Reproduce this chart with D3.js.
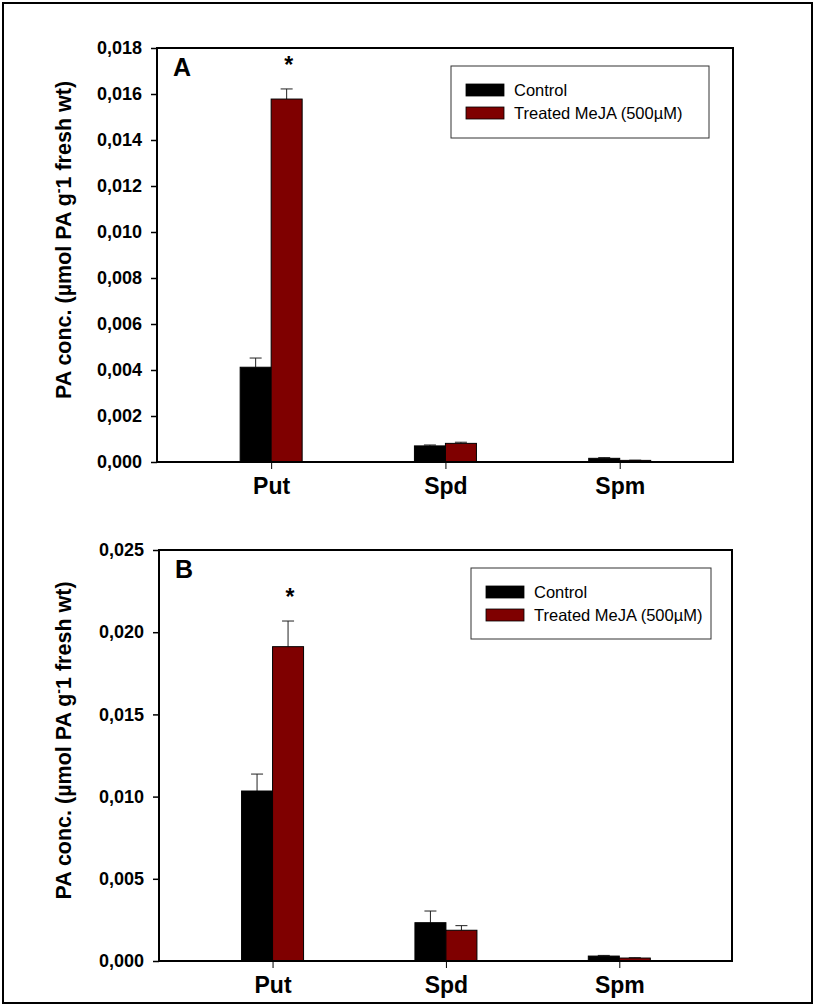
<!DOCTYPE html>
<html>
<head>
<meta charset="utf-8">
<script src="https://cdn.jsdelivr.net/npm/d3@7"></script>
<style>
  html, body { margin: 0; padding: 0; background: #fff; }
  svg { display: block; }
  text { font-family: "Liberation Sans", Arial, sans-serif; }
</style>
</head>
<body>
<svg id="chart" width="815" height="1006"></svg>
<script>
// ---- data ----
const categories = ["Put", "Spd", "Spm"];
const seriesNames = ["Control", "Treated MeJA (500\u00b5M)"];
const seriesColors = ["#000000", "#7f0000"];

const controlA = [0.00412, 0.00070, 0.00016];
const controlErrA = [0.00040, 0.00004, 0.00003];
const treatedA = [0.01578, 0.00081, 0.00007];
const treatedErrA = [0.00044, 0.00005, 0.00001];
const signifA = [true, false, false];
const ticksA = [0, 0.002, 0.004, 0.006, 0.008, 0.010, 0.012, 0.014, 0.016, 0.018];

const controlB = [0.01034, 0.00233, 0.00030];
const controlErrB = [0.00103, 0.00071, 0.00004];
const treatedB = [0.01912, 0.00187, 0.00018];
const treatedErrB = [0.00156, 0.00028, 0.00002];
const signifB = [true, false, false];
const ticksB = [0, 0.005, 0.010, 0.015, 0.020, 0.025];

const yTitleParts = ["PA conc. (\u00b5mol PA g", "-", "1 fresh wt)"];

// ---- drawing ----
const svg = d3.select("#chart");
svg.append("rect").attr("x", 3).attr("y", 3).attr("width", 809).attr("height", 1000)
  .attr("fill", "none").attr("stroke", "#000").attr("stroke-width", 2);

const fmt = v => d3.format(".3f")(v).replace(".", ",");

function panel(cfg) {
  const g = svg.append("g");
  const x = d3.scaleLinear().domain([-0.655, 2.65]).range([cfg.left, cfg.right]);
  const y = d3.scaleLinear().domain([0, cfg.ymax]).range([cfg.bottom, cfg.top]);
  const bw = 31;

  // y axis
  const yAxis = d3.axisLeft(y).tickValues(cfg.ticks).tickFormat(fmt).tickSize(6).tickPadding(9);
  const ya = g.append("g").attr("transform", `translate(${cfg.left},0)`).call(yAxis);
  ya.select(".domain").remove();
  ya.selectAll(".tick line").attr("stroke", "#000").attr("stroke-width", 1.5);
  ya.selectAll(".tick text").attr("font-size", 18).attr("font-weight", "bold").attr("fill", "#000")
    .attr("font-family", "'Liberation Sans', Arial, sans-serif");

  // x axis
  const xAxis = d3.axisBottom(x).tickValues(categories.map((d, i) => i))
    .tickFormat(i => categories[i]).tickSize(7).tickPadding(9);
  const xa = g.append("g").attr("transform", `translate(0,${cfg.bottom})`).call(xAxis);
  xa.select(".domain").remove();
  xa.selectAll(".tick line").attr("stroke", "#000").attr("stroke-width", 1);
  xa.selectAll(".tick text").attr("font-size", 23).attr("font-weight", "bold").attr("fill", "#000")
    .attr("font-family", "'Liberation Sans', Arial, sans-serif");

  // bars
  const series = [
    { vals: cfg.control, errs: cfg.controlErr, color: seriesColors[0], off: -bw },
    { vals: cfg.treated, errs: cfg.treatedErr, color: seriesColors[1], off: 0 }
  ];
  series.forEach(s => {
    g.selectAll(null).data(categories).enter().append("line")
      .attr("x1", (d, i) => x(i) + s.off + bw / 2).attr("x2", (d, i) => x(i) + s.off + bw / 2)
      .attr("y1", (d, i) => y(s.vals[i])).attr("y2", (d, i) => y(s.vals[i] + s.errs[i]))
      .attr("stroke", "#222").attr("stroke-width", 1);
    g.selectAll(null).data(categories).enter().append("line")
      .attr("x1", (d, i) => x(i) + s.off + bw / 2 - 6).attr("x2", (d, i) => x(i) + s.off + bw / 2 + 6)
      .attr("y1", (d, i) => y(s.vals[i] + s.errs[i])).attr("y2", (d, i) => y(s.vals[i] + s.errs[i]))
      .attr("stroke", "#222").attr("stroke-width", 1);
    g.selectAll(null).data(categories).enter().append("rect")
      .attr("x", (d, i) => x(i) + s.off).attr("width", bw)
      .attr("y", (d, i) => y(s.vals[i])).attr("height", (d, i) => y(0) - y(s.vals[i]))
      .attr("fill", s.color).attr("stroke", "#000").attr("stroke-width", 1);
  });

  // significance stars
  g.selectAll(null).data(categories.filter((d, i) => cfg.signif[i])).enter().append("text")
    .attr("x", d => x(categories.indexOf(d)) + bw / 2 + 2)
    .attr("y", d => { const i = categories.indexOf(d); return y(cfg.treated[i] + cfg.treatedErr[i]) - 16; })
    .attr("text-anchor", "middle").attr("font-size", 23).attr("font-weight", "bold").text("*");

  // frame
  g.append("rect").attr("x", cfg.left).attr("y", cfg.top)
    .attr("width", cfg.right - cfg.left).attr("height", cfg.bottom - cfg.top)
    .attr("fill", "none").attr("stroke", "#000").attr("stroke-width", 2);

  // panel letter
  g.append("text").attr("x", cfg.left + 16).attr("y", cfg.top + 28)
    .attr("font-size", 25).attr("font-weight", "bold").text(cfg.letter);

  // y title
  const cy = (cfg.top + cfg.bottom) / 2 - 15;
  const t = g.append("text").attr("transform", `translate(71,${cy}) rotate(-90)`)
    .attr("text-anchor", "middle").attr("font-size", 21.5).attr("font-weight", "bold");
  t.append("tspan").text(yTitleParts[0]);
  t.append("tspan").attr("dy", -8).attr("font-size", 14).text(yTitleParts[1]);
  t.append("tspan").attr("dy", 8).text(yTitleParts[2]);

  // legend
  const L = cfg.legend;
  g.append("rect").attr("x", L.x).attr("y", L.y).attr("width", L.w).attr("height", L.h)
    .attr("fill", "#fff").attr("stroke", "#333").attr("stroke-width", 1);
  const items = g.selectAll(null).data(seriesNames).enter().append("g")
    .attr("transform", (d, i) => `translate(${L.x + 15},${L.y + 18 + i * 23})`);
  items.append("rect").attr("width", 38).attr("height", 12)
    .attr("fill", (d, i) => seriesColors[i]).attr("stroke", "#000").attr("stroke-width", 0.8);
  items.append("text").attr("x", 48).attr("y", 12).attr("font-size", 16.5).text(d => d);
}

panel({
  left: 157, right: 733, top: 48, bottom: 462, ymax: 0.018, ticks: ticksA,
  control: controlA, controlErr: controlErrA, treated: treatedA, treatedErr: treatedErrA,
  signif: signifA, letter: "A",
  legend: { x: 451, y: 66, w: 258, h: 72 }
});
panel({
  left: 159, right: 732, top: 550, bottom: 961, ymax: 0.025, ticks: ticksB,
  control: controlB, controlErr: controlErrB, treated: treatedB, treatedErr: treatedErrB,
  signif: signifB, letter: "B",
  legend: { x: 471, y: 568, w: 240, h: 71 }
});
</script>
</body>
</html>
